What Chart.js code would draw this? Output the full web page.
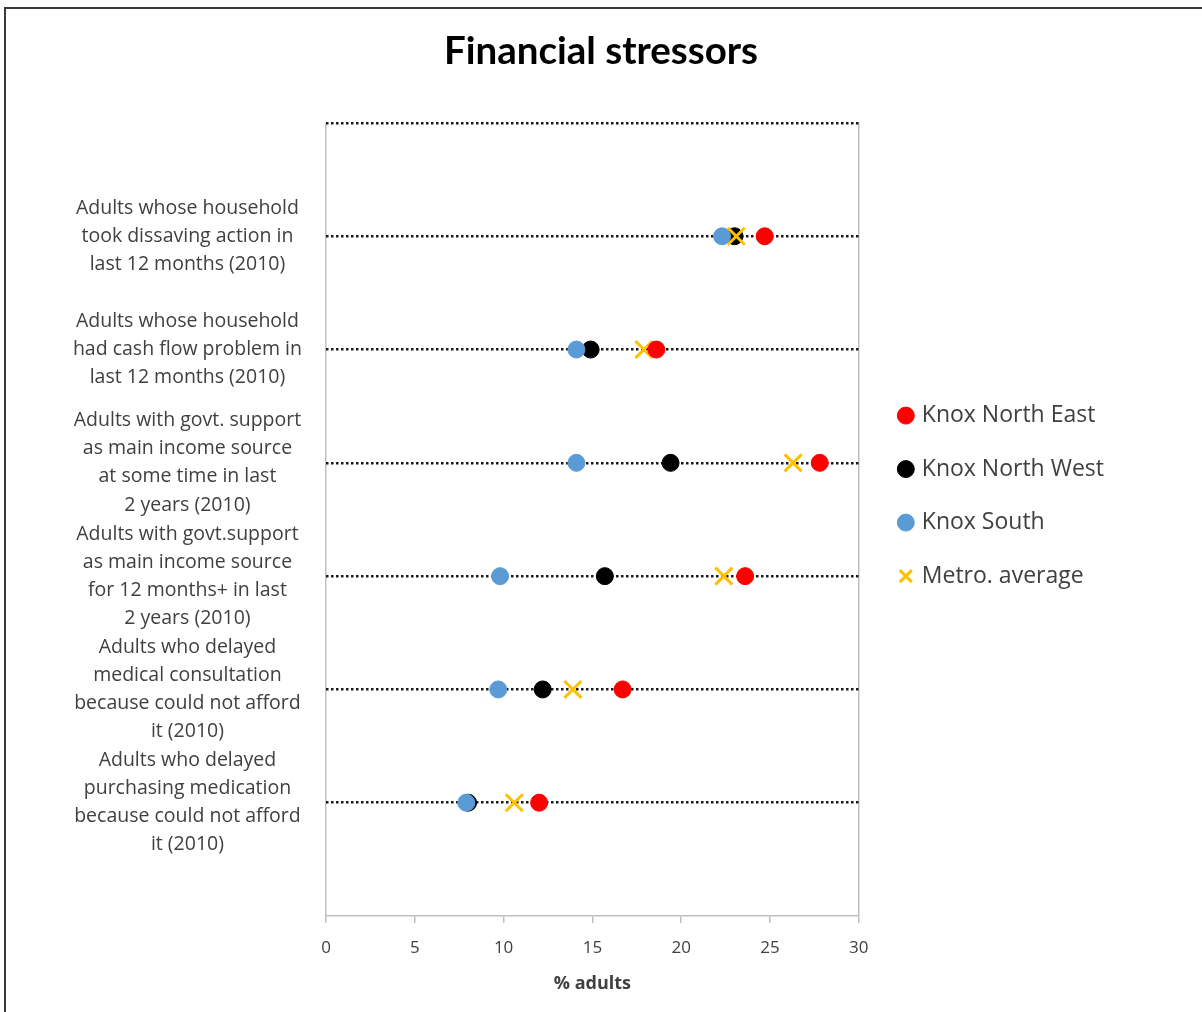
<!DOCTYPE html>
<html>
<head>
<meta charset="utf-8">
<script src="https://cdn.jsdelivr.net/npm/chart.js@4"></script>
<style>
  body { margin: 0; background: #fff; overflow: hidden; }
  #wrap { position: absolute; left: 0; top: 0; width: 1202px; height: 1012px; }
  #frame { position: absolute; left: 4px; top: 7px; width: 1220px; height: 1030px; border: 2px solid #3a3a3a; pointer-events: none; }
</style>
</head>
<body>
<div id="wrap"><canvas id="chart"></canvas></div>
<div id="frame"></div>
<script>
let rowLabels = [
    ["Adults whose household", "took dissaving action in", "last 12 months (2010)"],
    ["Adults whose household", "had cash flow problem in", "last 12 months (2010)"],
    ["Adults with govt. support", "as main income source", "at some time in last", "2 years (2010)"],
    ["Adults with govt.support", "as main income source", "for 12 months+ in last", "2 years (2010)"],
    ["Adults who delayed", "medical consultation", "because could not afford", "it (2010)"],
    ["Adults who delayed", "purchasing medication", "because could not afford", "it (2010)"]
];

let seriesNames = ["Knox North East", "Knox North West", "Knox South", "Metro. average"];
let knoxNorthEast = [24.7, 18.6, 27.8, 23.6, 16.7, 12.0];
let knoxNorthWest = [23.0, 14.9, 19.4, 15.7, 12.2, 8.0];
let knoxSouth = [22.3, 14.1, 14.1, 9.8, 9.7, 7.9];
let metroAverage = [23.1, 17.9, 26.3, 22.4, 13.9, 10.6];
let xTicks = [0, 5, 10, 15, 20, 25, 30];

let textGrey = "#404040";
let axisGrey = "#bfbfbf";

// one row per category, row 1 at the top
function toPoints(values) {
    return values.map((v, i) => ({ x: v, y: i + 1 }));
}

function dotSeries(label, values, colour, order) {
    return {
        label: label,
        data: toPoints(values),
        backgroundColor: colour,
        borderColor: colour,
        borderWidth: 1,
        pointStyle: "circle",
        pointRadius: 8.5,
        pointHoverRadius: 8.5,
        order: order
    };
}

let datasets = [
    dotSeries(seriesNames[0], knoxNorthEast, "#ff0000", 0),
    dotSeries(seriesNames[1], knoxNorthWest, "#000000", 3),
    dotSeries(seriesNames[2], knoxSouth, "#5b9bd5", 2),
    {
        label: seriesNames[3],
        data: toPoints(metroAverage),
        backgroundColor: "#ffc000",
        borderColor: "#ffc000",
        borderWidth: 3,
        pointStyle: "crossRot",
        pointRadius: 12,
        pointHoverRadius: 12,
        order: 1
    }
];

// empty axis used only to reserve horizontal space on the right
function spacer(width, weight) {
    return {
        type: "linear",
        position: "right",
        display: true,
        weight: weight,
        ticks: { display: false },
        grid: { display: false },
        border: { display: false },
        afterFit: (scale) => { scale.width = width; }
    };
}

new Chart(document.getElementById("chart"), {
    type: "scatter",
    data: { datasets: datasets },
    options: {
        responsive: true,
        maintainAspectRatio: false,
        animation: false,
        layout: { padding: { left: 0, right: 0, top: 0, bottom: 13.4 } },
        plugins: {
            title: {
                display: true,
                text: "Financial stressors",
                color: "#000",
                font: { family: "Lato", size: 38.5, weight: "bold" },
                padding: { top: 28.9, bottom: 47.9 }
            },
            legend: {
                position: "right",
                align: "start",
                fullSize: false,
                maxWidth: 400,
                title: { display: true, text: "", font: { size: 12 }, padding: { top: 236.2, bottom: 0 } },
                labels: {
                    usePointStyle: true,
                    boxWidth: 9,
                    boxHeight: 12,
                    padding: 30.5,
                    color: textGrey,
                    font: { family: "Open Sans", size: 23 },
                    sort: (a, b) => a.datasetIndex - b.datasetIndex
                }
            },
            tooltip: { enabled: false }
        },
        scales: {
            x: {
                type: "linear",
                min: 0,
                max: 30,
                afterBuildTicks: (scale) => { scale.ticks = xTicks.map(v => ({ value: v })); },
                ticks: { color: textGrey, font: { family: "Open Sans", size: 17 }, padding: 14.8 },
                grid: {
                    // only the two plot edges get a line
                    color: (ctx) => ctx.tick && (ctx.tick.value === 0 || ctx.tick.value === 30) ? axisGrey : "transparent",
                    lineWidth: 1.5,
                    tickColor: axisGrey,
                    tickLength: 7
                },
                border: { color: axisGrey, width: 1.5 },
                title: {
                    display: true,
                    text: "% adults",
                    color: textGrey,
                    font: { family: "Open Sans", size: 18, weight: "bold" },
                    padding: { top: 0, bottom: 4 }
                }
            },
            y: {
                type: "linear",
                reverse: true,
                min: 0,
                max: 7,
                afterFit: (scale) => { scale.width = 326; },
                ticks: {
                    stepSize: 1,
                    autoSkip: false,
                    crossAlign: "center",
                    padding: 24,
                    color: textGrey,
                    font: { family: "Open Sans", size: 19.5, lineHeight: 1.44 },
                    callback: (v) => v === 7 ? null : (rowLabels[v - 1] || "")
                },
                grid: {
                    drawTicks: false,
                    color: (ctx) => ctx.tick && ctx.tick.value === 7 ? "transparent" : "#1a1a1a",
                    lineWidth: 2.5
                },
                // in v4 the grid line dash is taken from border.dash
                border: { display: false, dash: [2.5, 2.5] }
            },
            gapInner: spacer(12, 0),
            gapOuter: spacer(88, 2000)
        }
    }
});
</script>
</body>
</html>
